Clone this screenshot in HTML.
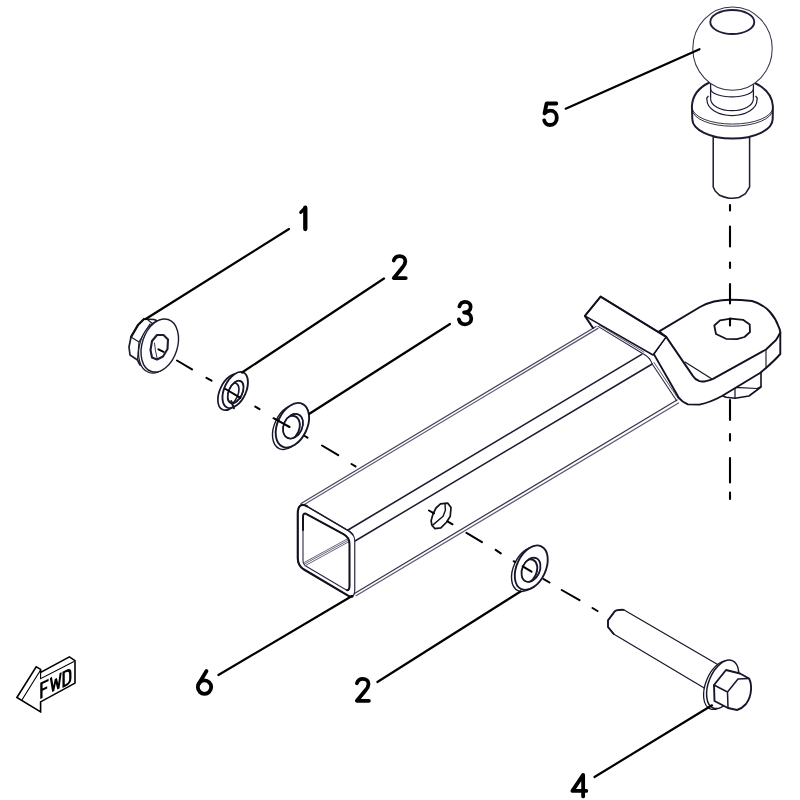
<!DOCTYPE html>
<html><head><meta charset="utf-8"><title>Hitch</title>
<style>
html,body{margin:0;padding:0;background:#fff;}
svg{display:block;font-family:"Liberation Sans",sans-serif;}
</style></head><body>
<svg width="800" height="800" viewBox="0 0 800 800">
<rect width="800" height="800" fill="#fff"/>

<!-- ===== TUBE (6) ===== -->
<g id="tube" fill="none" stroke="#45455e" stroke-width="1.25" stroke-linecap="round" stroke-linejoin="round">
  <!-- back top edge double -->
  <path d="M301,503.5 L596,326.5"/>
  <path d="M303,505.2 L598,328.4" stroke="#5a5a74"/>
  <!-- middle lines -->
  <path d="M348,530 L641.7,354.4" stroke="#1c1c30" stroke-width="1.6"/>
  <path d="M355,541 L652.2,364" stroke="#1c1c30" stroke-width="1.5"/>
  <!-- bottom front edge double -->
  <path d="M354,593.8 L677,400" stroke="#34344c"/>
  <path d="M356,595.8 L678.5,403" stroke="#5a5a74"/>
  <!-- far end -->
  <path d="M598,326.4 L642.6,353.5 Q650,357 652.2,364 L676.7,400.7" stroke="#2a2a40" stroke-width="1.1"/>
  <path d="M599,325 L644,352.2" stroke-width="0.9"/>
  <path d="M654,362.5 L678.5,399" stroke-width="0.9"/>
</g>
<!-- front face -->
<g id="tubeface" fill="#fff" stroke="#2a2a42" stroke-width="1.2" stroke-linejoin="round" stroke-linecap="round">
  <path d="M297.75,514 Q297.75,503 305,505.3 L346,529.3 Q354.75,533.5 354.75,541 L354.75,590 Q354.75,598.5 348.5,595.9 L304,569.5 Q297.75,566 297.75,558 Z"/>
  <path d="M303,517 Q303,512 307,514.3 L343.5,534.2 Q349.5,537.5 349.5,544 L349.5,586 Q349.5,591.8 345.5,589.5 L307,566.8 Q303,564.5 303,560.5 Z" stroke-width="1.1"/>
  <path d="M304.5,562.3 L348.7,538.2 M304.5,564 L348.7,540 M305,565.8 L348.7,541.8" fill="none" stroke="#55556e" stroke-width="0.9"/>
  <path d="M307,506.3 L305,505.3 Q297.75,503 297.75,514 L297.75,558 Q297.75,566 304,569.5 L348.5,595.9 Q351,597 352.5,596.5" fill="none" stroke="#12121f" stroke-width="2.1"/>
  <path d="M303,530 L303,517 Q303,512 307,514.3 L343.5,534.2 Q349.5,537.5 349.5,544 L349.5,586 Q349.5,590.5 347,590.2" fill="none" stroke="#12121f" stroke-width="2"/>
  <path d="M307,506.3 L346,529.3 Q351,531.5 353,535" fill="none" stroke="#1c1c30" stroke-width="1.4"/>
</g>
<!-- side hole -->
<g fill="#fff" stroke="#12121f" stroke-width="1.7" stroke-linejoin="round" stroke-linecap="round">
  <path d="M440.5,503.9 L447.6,503.1 L451,507.6 L450.25,516.25 L446.5,522.25 L440.9,527.9 L434.9,528.6 L431.9,525.25 L431.1,520.75 L433,514 L436,508 Z"/>
  <path d="M445,503.5 L445.4,510.25 L443.1,516.25 L433,524.9" fill="none" stroke-width="1.4"/>
</g>

<!-- ===== BRACKET / TONGUE ===== -->
<g id="tongue" stroke="#111122" stroke-width="1.9" stroke-linejoin="round" stroke-linecap="round" fill="#fff">
  <!-- nut underneath -->
  <path d="M722,395.5 L726,397.3 L735,398.2 L749,396 L761,387 L761,366 L719,392 Z" stroke-width="1.6"/>
  <path d="M735,387.3 L735,398 M735,387.3 L757,388.5 L761,386.5" stroke-width="1.2" fill="none"/>
  <!-- bend + tongue body (side/outer) -->
  <path d="M654,354.4 L678.5,397.2 Q682,402 688,404.4 L699.5,404.6 Q710,402.5 722,396 L760,373 L766,368 Q775,360 780.3,354 L780.3,332 L766,349.5 L711.5,379.5 L699.5,381.2 L692.5,375.4 L666.2,336.9 Z" stroke="none"/>
  <path d="M654,354.4 L678.5,397.2 Q682,402 688,404.4 L699.5,404.6 Q710,402.5 722,396 L760,373 L766,368 Q775,360 780.3,354 L780.3,332" fill="none"/>
  <!-- tongue top face -->
  <path d="M659.2,331.4 L700,307 Q707,303.2 714,301.5 Q722,299.8 730,299.8 Q741,299.8 752,301 Q763,304 770,312 Q776,319 778.3,326 Q780,329 780.3,332.5 Q778,337 776,340 L766,349.5 L713,378.8 Q704,382.5 699.5,381.2 Q695,379.5 692.5,375.4 L666.2,336.9 Z"/>
  <!-- flat bar top -->
  <path d="M600.6,296.6 L584.9,315.9 L653,355 L666.2,336.9 Z" stroke-width="1.5"/>
  <path d="M666.2,336.9 L600.6,296.6 L584.9,315.9 L593,328" fill="none" stroke-width="2"/>
  <path d="M766,349.5 L766,368" stroke-width="1.1" fill="none"/>
  <path d="M685,362 L712,379" stroke-width="1.1" fill="none"/>
  <path d="M654,354.4 L666.2,336.9" stroke-width="1" fill="none"/>
  <!-- hole -->
  <path d="M714.3,325.5 L720,320.3 L731,318.6 L743,319.8 L749.7,324.5 L750,332 L744.5,337 L737,339.2 L726,338.8 L716,334 Z" stroke-width="1.8"/>
</g>

<!-- ===== BALL (5) ===== -->
<g id="ball" stroke="#1c1c30" fill="#fff" stroke-linejoin="round">
  <path d="M713.2,137 L713.2,187 L715,190.7 L719.5,195.2 Q727.7,198.6 733,198.3 L739,197.5 L745.5,193.7 L749.6,187 L749.6,137 Z" stroke-width="1.5"/>
  <path d="M709.4,82.5 C700,87 692.5,95 691.9,106.2 L692.3,119 A40.2,19.6 0 0 0 772.7,119 L772.9,106.2 C772.3,95 764,87 753.7,82.5 Z" stroke-width="2"/>
  <path d="M692.2,107.5 A40.3,16.6 0 0 0 772.8,107.5" fill="none" stroke-width="0.9"/>
  <path d="M692.4,109.6 A40.1,16.6 0 0 0 772.6,109.6" fill="none" stroke-width="0.9"/>
  <path d="M708.5,96 Q706,98 707,100 A25,15.6 0 0 0 757,100 Q758,98 755.5,96" fill="none" stroke-width="1.2"/>
  <path d="M710.6,98.7 A21.4,12 0 0 0 753.4,98.7" fill="none" stroke-width="1.2"/>
  <rect x="711.2" y="78" width="41.6" height="20.7" stroke="none"/>
  <path d="M710.6,82 L710.6,98.7 M753.4,82 L753.4,98.7" fill="none" stroke-width="1.3"/>
  <path d="M710.6,88.7 A21.4,8.2 0 0 0 753.4,88.7" fill="none" stroke-width="1.1"/>
  <ellipse cx="732.5" cy="48.6" rx="39.7" ry="41.6" stroke-width="1.05" stroke="#33334d"/>
  <ellipse cx="732.3" cy="22" rx="22" ry="12" stroke-width="1.9" stroke="#1e1e38"/>
</g>

<!-- vertical axis -->
<g stroke="#000" stroke-width="2.1" stroke-linecap="round">
  <path d="M730,205 L730,210.5 M730,226.5 L730,246.5 M730,262.5 L730,268 M730,284 L730,303.5 M730,318.5 L730,325.5 M730,400 L730,420 M730,434 L730,440.5 M730,458 L730,482.5 M730,492.5 L730,499"/>
</g>

<!-- ===== NUT (1) ===== -->
<g id="nut" stroke="#1c1c30" fill="#fff" stroke-linejoin="round" stroke-linecap="round">
  <path d="M144,319 L154,319.5 L159,321.5 L150,365 L140,365 L137.5,360 L130,355 L129,347 L131,337 L138,325 Z" stroke-width="1.7"/>
  <path d="M144,319 L138,325 L131,337" fill="none" stroke-width="2.2" stroke="#111"/>
  <path d="M131,337 L139,342 L150,324 M139,342 L137.5,360 M148,320 L153,324" fill="none" stroke-width="1.2"/>
  <ellipse cx="157.3" cy="346.5" rx="17.6" ry="27.3" transform="rotate(18 157.3 346.5)" stroke-width="1.2"/>
  <ellipse cx="159.75" cy="345.5" rx="17.6" ry="27.3" transform="rotate(18 159.75 345.5)" stroke-width="1.4"/>
  <path d="M157,335 L163.5,335 L168,339.5 L167.5,349 L163,356.5 L157,359.5 L152,357.5 L150.5,350 L152,341 Z" stroke-width="2.1"/>
  <path d="M154.5,343 Q155,350 157,358" fill="none" stroke-width="0.9"/>
</g>

<!-- ===== LOCK WASHER (2) ===== -->
<g id="lockw" stroke="#17172b" fill="#fff" stroke-linejoin="round" stroke-linecap="round">
  <clipPath id="cp_lockw"><ellipse cx="235.6" cy="392" rx="6.8" ry="12" transform="rotate(25 235.6 392)"/></clipPath>
  <ellipse cx="230.6" cy="392.1" rx="10.8" ry="19.3" transform="rotate(25 230.6 392.1)" stroke-width="1.7"/>
  <ellipse cx="235.2" cy="390" rx="10.8" ry="19.3" transform="rotate(25 235.2 390)" stroke-width="1.9"/>
  <ellipse cx="235.6" cy="392" rx="6.8" ry="12" transform="rotate(25 235.6 392)" stroke-width="1.2"/>
  <g clip-path="url(#cp_lockw)"><ellipse cx="231" cy="394.1" rx="6.8" ry="12" transform="rotate(25 231 394.1)" stroke-width="1.6" fill="none"/></g>
  <ellipse cx="235.6" cy="392" rx="6.8" ry="12" transform="rotate(25 235.6 392)" stroke-width="1.7" fill="none"/>
  <path d="M231.2,401.2 L233.9,408.2" fill="none" stroke-width="2.2"/>
</g>

<!-- ===== FLAT WASHER (3) ===== -->
<g id="flatw" stroke="#17172b" fill="#fff" stroke-linejoin="round" stroke-linecap="round">
  <clipPath id="cp_flatw"><ellipse cx="293" cy="426.2" rx="9.3" ry="12.9" transform="rotate(25 293 426.2)"/></clipPath>
  <ellipse cx="289.2" cy="427.2" rx="14.8" ry="23.6" transform="rotate(25 289.2 427.2)" stroke-width="1.4"/>
  <ellipse cx="292.4" cy="425.25" rx="14.8" ry="23.6" transform="rotate(25 292.4 425.25)" stroke-width="1.9"/>
  <ellipse cx="293" cy="426.2" rx="9.3" ry="12.9" transform="rotate(25 293 426.2)" stroke-width="1.2"/>
  <g clip-path="url(#cp_flatw)"><ellipse cx="289.8" cy="428.15" rx="9.3" ry="12.9" transform="rotate(25 289.8 428.15)" stroke-width="1.9" fill="none"/></g>
  <ellipse cx="293" cy="426.2" rx="9.3" ry="12.9" transform="rotate(25 293 426.2)" stroke-width="1.7" fill="none"/>
</g>

<!-- ===== FLAT WASHER (2 lower) ===== -->
<g id="flatw2" stroke="#17172b" fill="#fff" stroke-linejoin="round" stroke-linecap="round">
  <clipPath id="cp_flatw2"><ellipse cx="531" cy="569.75" rx="8.7" ry="12.7" transform="rotate(25 531 569.75)"/></clipPath>
  <ellipse cx="528" cy="569.3" rx="14.5" ry="23.6" transform="rotate(25 528 569.3)" stroke-width="1.4"/>
  <ellipse cx="531.25" cy="567.7" rx="14.5" ry="23.6" transform="rotate(25 531.25 567.7)" stroke-width="1.9"/>
  <ellipse cx="531" cy="569.75" rx="8.7" ry="12.7" transform="rotate(25 531 569.75)" stroke-width="1.2"/>
  <g clip-path="url(#cp_flatw2)"><ellipse cx="527.75" cy="571.35" rx="8.7" ry="12.7" transform="rotate(25 527.75 571.35)" stroke-width="1.9" fill="none"/></g>
  <ellipse cx="531" cy="569.75" rx="8.7" ry="12.7" transform="rotate(25 531 569.75)" stroke-width="1.7" fill="none"/>
</g>

<!-- ===== BOLT (4) ===== -->
<g id="bolt" stroke="#17172b" fill="#fff" stroke-linejoin="round" stroke-linecap="round">
  <path d="M719.4,665.4 L623.7,609.8 L705.9,689 Z" stroke="none"/>
  <path d="M719.4,665.4 L623.7,609.8 Q617,609.5 614.7,611.4 L608,620.4 L608,627 L613.6,633.9 L705.9,689 Z" stroke-width="1.2"/>
  <path d="M623.7,609.8 Q617,609.5 614.7,611.4 L608,620.4 L608,627 L613.6,633.9" fill="none" stroke-width="1.8"/>
  <ellipse cx="719.7" cy="685.2" rx="14" ry="25.5" transform="rotate(22 719.7 685.2)" stroke-width="1.3"/>
  <ellipse cx="722.7" cy="684.3" rx="14" ry="25.5" transform="rotate(22 722.7 684.3)" stroke-width="1.5"/>
  <path d="M714,685 L726,670 L740,673.5 L749,678.5 Q751.5,683 751,690 Q750.5,698 746,704 Q742,708.5 737,710 L728,708 L714.5,701 Z" stroke-width="1.9"/>
  <path d="M714,685 L727.5,692 L728,708 M727.5,692 L738,679 L749,678.5" fill="none" stroke-width="1.5"/>
</g>

<!-- diagonal axis -->
<g stroke="#000" stroke-width="2" stroke-linecap="round">
  <path d="M158.5,349.3 L163.5,351.8 M177,360.5 L192,369.4 M206.5,377.8 L211.5,380.7 M225.5,389 L240.5,397.8 M255.3,406.6 L259.5,409.2 M273.5,418.2 L289.5,427 M304.7,436 L307.5,437.7 M322,445.5 L338.2,455.2 M351.5,464 L355.5,466.4"/>
  <path d="M429,510.5 L434,513.3 M447.5,521.4 L452.5,524.3 M466.5,532.8 L482,542.1 M495.7,549.9 L500.8,553.4 M513.7,561.2 L514.8,561.9 M522.7,566.3 L531.5,571.7 M543.7,579.1 L549.5,582.5 M561.7,590 L579.5,600.2 M592.5,608 L597.5,611"/>
</g>

<!-- ===== LEADERS ===== -->
<g stroke="#000" stroke-width="2.2" stroke-linecap="round">
  <path d="M289,229 L145.7,319"/>
  <path d="M384,278.5 L242,372.5"/>
  <path d="M450,324 L309.4,413.7"/>
  <path d="M565.7,108.7 L699.5,49.2"/>
  <path d="M218.4,675 L352,596"/>
  <path d="M377.4,682 L520.5,591.5"/>
  <path d="M594.5,777 L712,705.3"/>
</g>

<!-- ===== LABELS ===== -->
<defs>
  <g id="d1"><path d="M6.55,2.1 L6.55,23.4" stroke-width="4.3"/><path d="M5.6,3 L2,6.7" stroke-width="3.2"/></g>
  <path id="d2" d="M2,6.3 C2.8,3.6 5,2 7.9,2 C11.5,2 13.6,4.2 13.6,7 C13.6,9.5 12.5,11.3 10.5,13.6 L2,23.9 L14,23.9"/>
  <path id="d3" d="M2,6.5 C2.8,3.5 5,1.9 7.6,1.9 C11,1.9 13.25,3.8 13.25,6.8 C13.25,10.5 10.5,12.5 6.7,12.6 C11,12.7 13.9,14.8 13.9,18.6 C13.9,22 11.2,24.4 7.6,24.4 C4.5,24.4 2.2,22.6 1.5,19.5"/>
  <path id="d4" d="M12.65,23.4 L12.65,1.9 L1.9,17.9 L15.8,17.9"/>
  <path id="d5" d="M13.9,2.1 L4.2,2.1 L2.1,12.1 C4.2,10 6,9.3 7.8,9.3 C11.6,9.3 14.4,12 14.4,16.3 C14.4,20.6 11.6,23.6 7.6,23.6 C4.6,23.6 2.5,21.9 1.8,19"/>
  <g id="d6"><circle cx="8.6" cy="17.9" r="6.7"/><path d="M10.6,1.9 L2.87,14.43"/></g>
</defs>
<g fill="none" stroke="#000" stroke-width="3.8" stroke-linecap="round" stroke-linejoin="round">
  <use href="#d1" x="298.75" y="205.6"/>
  <use href="#d2" x="391.75" y="254.2"/>
  <use href="#d3" x="457.4" y="299.9"/>
  <use href="#d5" x="542.4" y="101.4"/>
  <use href="#d6" x="195.9" y="669.2"/>
  <use href="#d2" x="354.9" y="676.9"/>
  <use href="#d4" x="570.5" y="773"/>
</g>

<!-- ===== FWD ARROW ===== -->
<g id="fwd" stroke="#000" fill="#fff" stroke-width="1.6" stroke-linejoin="miter">
  <path d="M16.9,697.5 L36.2,666.9 L40.6,669.4 L40.6,672.5 L69.4,656.9 L75,660.6 L75,683.1 L40.6,701.9 L40.6,711.9 Z"/>
  <path d="M21.9,700 L40.3,670.5 M40.6,672.5 L40.6,678.7 L74,661.5" fill="none" stroke-width="1.1"/>
  <g transform="matrix(1 -0.5 0 -1 40 699.2)" fill="none" stroke="#000" stroke-width="2.3" stroke-linejoin="miter" stroke-linecap="butt">
    <path d="M1.4,0 L1.4,16.2 M0.3,15.1 L8.6,15.1 M1.4,8.3 L7.2,8.3"/>
    <path d="M10.9,16.2 L13.2,1.2 L15.8,12.5 L18.4,1.2 L20.7,16.2" stroke-width="2.1"/>
    <path d="M23.6,0 L23.6,16.2 M22.5,15.1 L26,15.1 Q30.3,15.1 30.3,10.6 L30.3,5.6 Q30.3,1.1 26,1.1 L22.5,1.1"/>
  </g>
</g>
</svg>
</body></html>
